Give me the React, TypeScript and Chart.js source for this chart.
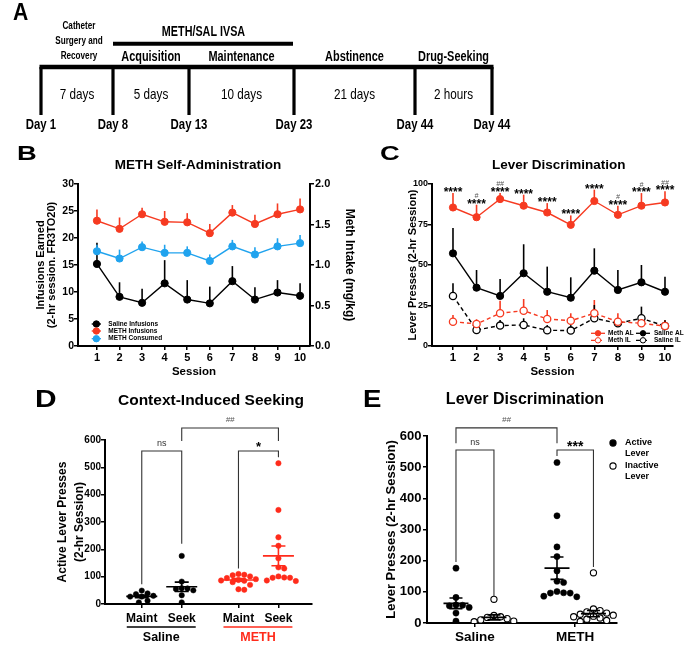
import React, { useEffect, useRef } from "react";
import { Chart, registerables } from "chart.js";

Chart.register(...registerables);

const SANS = "'Liberation Sans', Arial, Helvetica, sans-serif";
const RED = "#F63A21";
const RED_BRIGHT = "#FF2B1B";
const BLUE = "#20A3EE";
const BLACK = "#000000";

// ===== Panel A: experimental timeline =====
const timelineDays = ["Day 1", "Day 8", "Day 13", "Day 23", "Day 44", "Day 44"];
const timelineStages = ["Catheter\nSurgery and\nRecovery", "Acquisition", "Maintenance", "Abstinence", "Drug-Seeking"];
const timelineDurations = ["7 days", "5 days", "10 days", "21 days", "2 hours"];
const ivsaLabel = "METH/SAL IVSA";
const ivsaStages = [1, 2]; // stages covered by the IVSA bar

// ===== Panel B: METH self-administration =====
const sessions = [1, 2, 3, 4, 5, 6, 7, 8, 9, 10];
const salineInfusions = [15.2, 9.1, 8.0, 11.6, 8.6, 7.9, 12.0, 8.6, 9.9, 9.3];
const salineInfusionsErrTop = [19.1, 11.8, 10.6, 15.9, 12.2, 11.0, 14.8, 10.9, 12.2, 11.6];
const methInfusions = [23.2, 21.7, 24.4, 23.0, 22.9, 20.9, 24.7, 22.6, 24.4, 25.3];
const methInfusionsErrTop = [25.3, 23.8, 25.6, 25.0, 24.6, 22.6, 26.1, 24.3, 26.4, 27.3];
const methConsumed = [1.17, 1.08, 1.22, 1.15, 1.15, 1.05, 1.23, 1.13, 1.23, 1.27];
const methConsumedErrTop = [1.25, 1.19, 1.29, 1.25, 1.23, 1.13, 1.31, 1.22, 1.33, 1.37];

// ===== Panel C: lever discrimination across sessions =====
const methAL = [85.5, 79.5, 90.7, 86.6, 82.4, 74.8, 89.5, 81.0, 86.6, 88.6];
const methALErrTop = [94.4, 87.2, 94.5, 93.4, 88.2, 80.6, 96.5, 86.6, 94.4, 95.5];
const methIL = [15.0, 13.6, 20.2, 21.8, 16.7, 15.6, 20.2, 15.0, 14.0, 12.3];
const methILErrTop = [19.1, 16.5, 28.0, 29.0, 22.2, 20.2, 28.4, 20.2, 16.9, 16.0];
const salineAL = [57.2, 36.0, 30.9, 44.9, 33.5, 29.8, 46.5, 34.6, 39.3, 33.5];
const salineALErrTop = [72.9, 46.9, 41.4, 62.8, 49.0, 42.4, 60.3, 46.9, 50.0, 42.8];
const salineIL = [30.9, 9.9, 12.6, 13.0, 9.7, 9.5, 17.1, 14.0, 17.1, 12.3];
const salineILErrTop = [38.7, 12.9, 16.0, 17.1, 12.9, 12.9, 25.3, 17.0, 24.3, 15.9];
const cStars = ["****", "****", "****", "****", "****", "****", "****", "****", "****", "****"];
const cHashes = ["", "#", "##", "", "", "", "", "#", "#", "##"];

// ===== Panel D: context-induced seeking =====
const dGroupLabels = ["Maint", "Seek", "Maint", "Seek"];
const dConditions = ["Saline", "METH"];
const salineMaint = [39, 27, 27, 30, 49, 6, 12, 36];
const salineSeek = [176, 82, 58, 50, 55, 57, 32, 6];
const methMaint = [110, 107, 105, 101, 95, 91, 88, 86, 85, 80, 70, 54, 52];
const methSeek = [515, 344, 244, 213, 167, 134, 130, 101, 97, 96, 96, 86, 84];
const dMeans = [28, 63, 88, 176];
const dSems = [5, 17, 5, 36];
const dBracketPairs = [[0, 1], [2, 3], [1, 3]];
const dBracketLegs = [[72, 220], [130, 537], [596, 596]];
const dBracketTops = [560, 560, 644];
const dBracketLabels = ["ns", "*", "##"];

// ===== Panel E: lever discrimination on test =====
const eConditions = ["Saline", "METH"];
const eSeriesLabels = ["Active Lever", "Inactive Lever"];
const salineInactive = [76, 24, 20, 18, 14, 10, 6, 4];
const methInactive = [161, 45, 40, 36, 32, 28, 25, 22, 20, 16, 12, 8, 5];
const eMeans = [63, 18, 176, 30];
const eSems = [17, 8, 36, 10];
const eBracketPairs = [[0, 2], [0, 1], [2, 3]];
const eBracketLegs = [[577, 577], [196, 87], [536, 180]];
const eBracketTops = [626, 555, 555];
const eBracketLabels = ["##", "ns", "***"];

// ===== layout constants (schematic / category positions) =====
const A_X = [41, 113, 189, 294, 415, 492];
const D_POS = [0, 1, 2.42, 3.42];
const E_POS = [0, 1, 2.66, 3.62];
const E_TICKS = [0.5, 3.14];

Chart.defaults.font.family = SANS;
Chart.defaults.color = "#000";

type TextItem = {
  text: string; x: number; y: number; font: string; color?: string;
  align?: CanvasTextAlign; baseline?: CanvasTextBaseline; sx?: number;
};

function textPlugin(items: TextItem[]) {
  return {
    id: "texts",
    afterDraw(chart: any) {
      const ctx = chart.ctx;
      for (const t of items) {
        ctx.save();
        ctx.translate(t.x, t.y);
        ctx.scale(t.sx ?? 1, 1);
        ctx.font = t.font;
        ctx.fillStyle = t.color ?? "#000";
        ctx.textAlign = t.align ?? "center";
        ctx.textBaseline = t.baseline ?? "middle";
        ctx.fillText(t.text, 0, 0);
        ctx.restore();
      }
    },
  };
}

const errorBarPlugin = {
  id: "errorBars",
  beforeDatasetsDraw(chart: any) {
    const ctx = chart.ctx;
    chart.data.datasets.forEach((ds: any, i: number) => {
      if (!ds.errTop) return;
      const meta = chart.getDatasetMeta(i);
      const xs = chart.scales[meta.xAxisID];
      const ys = chart.scales[meta.yAxisID];
      ctx.save();
      ctx.strokeStyle = ds.borderColor;
      ctx.lineWidth = 1.6;
      ds.data.forEach((p: any, j: number) => {
        const x = xs.getPixelForValue(p.x);
        ctx.beginPath();
        ctx.moveTo(x, ys.getPixelForValue(p.y));
        ctx.lineTo(x, ys.getPixelForValue(ds.errTop[j]));
        ctx.stroke();
      });
      ctx.restore();
    });
  },
};

function drawLegendEntry(ctx: any, ds: any, x0: number, x1: number, y: number, textX: number, size: number, r: number) {
  ctx.save();
  ctx.strokeStyle = ds.borderColor;
  ctx.lineWidth = 1.3;
  ctx.setLineDash(ds.borderDash || []);
  ctx.beginPath();
  ctx.moveTo(x0, y);
  ctx.lineTo(x1, y);
  ctx.stroke();
  ctx.setLineDash([]);
  ctx.beginPath();
  ctx.arc((x0 + x1) / 2, y, r, 0, Math.PI * 2);
  ctx.fillStyle = ds.pointBackgroundColor;
  ctx.fill();
  ctx.lineWidth = 1;
  ctx.strokeStyle = ds.pointBorderColor;
  ctx.stroke();
  ctx.fillStyle = "#000";
  ctx.font = `bold ${size}px ${SANS}`;
  ctx.textAlign = "left";
  ctx.textBaseline = "middle";
  ctx.fillText(ds.label, textX, y);
  ctx.restore();
}

function swarm(values: number[], center: number, pxPerX: number, pxPerY: number, minDist: number) {
  const order = values.map((_, i) => i).sort((a, b) => values[b] - values[a]);
  const placed: { dx: number; py: number }[] = [];
  const out: { x: number; y: number }[] = new Array(values.length);
  const step = minDist * 0.5;
  for (const i of order) {
    const py = values[i] * pxPerY;
    let chosen = 0;
    for (let k = 0; k < 80; k++) {
      const dx = k === 0 ? 0 : (k % 2 === 1 ? 1 : -1) * Math.ceil(k / 2) * step;
      if (placed.every((p) => Math.hypot(p.dx - dx, p.py - py) >= minDist)) {
        chosen = dx;
        break;
      }
    }
    placed.push({ dx: chosen, py });
    out[i] = { x: center + chosen / pxPerX, y: values[i] };
  }
  return out;
}

function meanSemPlugin(means: number[], sems: number[], pos: number[], colors: string[], meanHalf: number, capHalf: number) {
  return {
    id: "meanSem",
    afterDatasetsDraw(chart: any) {
      const ctx = chart.ctx;
      const xs = chart.scales.x;
      const ys = chart.scales.y;
      ctx.save();
      ctx.lineWidth = 1.6;
      means.forEach((m, i) => {
        const x = xs.getPixelForValue(pos[i]);
        const ym = ys.getPixelForValue(m);
        const yt = ys.getPixelForValue(m + sems[i]);
        const yb = ys.getPixelForValue(m - sems[i]);
        ctx.strokeStyle = colors[i];
        ctx.beginPath();
        ctx.moveTo(x - meanHalf, ym); ctx.lineTo(x + meanHalf, ym);
        ctx.moveTo(x, yt); ctx.lineTo(x, yb);
        ctx.moveTo(x - capHalf, yt); ctx.lineTo(x + capHalf, yt);
        ctx.moveTo(x - capHalf, yb); ctx.lineTo(x + capHalf, yb);
        ctx.stroke();
      });
      ctx.restore();
    },
  };
}

function bracketPlugin(pairs: number[][], legs: number[][], tops: number[], labels: string[], pos: number[], starSize: number) {
  return {
    id: "brackets",
    afterDraw(chart: any) {
      const ctx = chart.ctx;
      const xs = chart.scales.x;
      const ys = chart.scales.y;
      ctx.save();
      pairs.forEach((pr, i) => {
        const x1 = xs.getPixelForValue(pos[pr[0]]);
        const x2 = xs.getPixelForValue(pos[pr[1]]);
        const top = ys.getPixelForValue(tops[i]);
        ctx.strokeStyle = "#333";
        ctx.lineWidth = 1.1;
        ctx.beginPath();
        ctx.moveTo(x1, ys.getPixelForValue(legs[i][0]));
        ctx.lineTo(x1, top);
        ctx.lineTo(x2, top);
        ctx.lineTo(x2, ys.getPixelForValue(legs[i][1]));
        ctx.stroke();
        const lab = labels[i];
        const isStar = lab.includes("*");
        ctx.textAlign = "center";
        ctx.textBaseline = "alphabetic";
        if (isStar) {
          ctx.font = `bold ${starSize}px ${SANS}`;
          ctx.fillStyle = "#000";
          ctx.fillText(lab, (x1 + x2) / 2, top + 0.5);
        } else if (lab.includes("#")) {
          ctx.font = `italic 8px ${SANS}`;
          ctx.fillStyle = "#555";
          ctx.fillText(lab, (x1 + x2) / 2, top - 5.5);
        } else {
          ctx.font = `9px ${SANS}`;
          ctx.fillStyle = "#333";
          ctx.fillText(lab, (x1 + x2) / 2, top - 5);
        }
      });
      ctx.restore();
    },
  };
}

const axisBorder = { display: true, color: "#000", width: 2 };
const tickGrid = (len: number) => ({
  display: true, drawOnChartArea: false, drawTicks: true, tickLength: len,
  color: "#000", tickColor: "#000", tickWidth: 1.5, lineWidth: 1.5,
});

function sessionAxis(min: number, max: number, tickSize: number) {
  return {
    type: "linear",
    min, max,
    afterBuildTicks: (s: any) => { s.ticks = sessions.map((v) => ({ value: v })); },
    ticks: { font: { size: tickSize, weight: "bold" }, color: "#000", padding: 1, autoSkip: false, maxRotation: 0 },
    grid: tickGrid(4),
    border: axisBorder,
    title: { display: true, text: "Session", font: { size: 11.5, weight: "bold" }, color: "#000", padding: { top: 0, bottom: 1 } },
    afterFit: (s: any) => { s.height = 34; },
  };
}

const pts = (vals: number[]) => sessions.map((s, i) => ({ x: s, y: vals[i] }));

// ---------- Panel A ----------
function configA() {
  const tickData: any[] = [];
  A_X.forEach((x) => { tickData.push({ x, y: 67 }, { x, y: 115 }, { x, y: null }); });
  const datasets: any[] = [
    { data: [{ x: A_X[0] - 1.5, y: 67 }, { x: A_X[A_X.length - 1] + 1.5, y: 67 }], borderWidth: 4.3 },
    { data: tickData, borderWidth: 3.2, spanGaps: false },
    { data: [{ x: A_X[ivsaStages[0]], y: 43.7 }, { x: A_X[ivsaStages[1] + 1] - 1, y: 43.7 }], borderWidth: 4 },
  ].map((d) => ({ ...d, borderColor: "#000", pointRadius: 0, tension: 0 }));
  const cond = 0.78;
  const items: TextItem[] = [{ text: "A", x: 13, y: 14, font: `bold 23px ${SANS}`, align: "left", sx: 0.92 }];
  timelineStages.forEach((st, i) => {
    const cx = (A_X[i] + A_X[i + 1]) / 2;
    const lines = st.split("\n");
    if (lines.length > 1) {
      const ys = [25.5, 41, 56];
      lines.forEach((ln, k) => items.push({ text: ln, x: cx + 2, y: ys[k], font: `bold 11px ${SANS}`, sx: 0.74 }));
    } else {
      items.push({ text: st, x: cx, y: 56.7, font: `bold 14px ${SANS}`, sx: cond });
    }
    items.push({ text: timelineDurations[i], x: cx, y: 94.5, font: `15px ${SANS}`, sx: cond });
  });
  timelineDays.forEach((d, i) => items.push({ text: d, x: A_X[i], y: 125, font: `bold 15px ${SANS}`, sx: 0.76 }));
  items.push({ text: ivsaLabel, x: (A_X[ivsaStages[0]] + A_X[ivsaStages[1] + 1]) / 2, y: 32.5, font: `bold 14px ${SANS}`, sx: 0.77 });
  return {
    type: "line",
    data: { datasets },
    options: {
      animation: false, responsive: false, events: [],
      layout: { padding: 0 },
      plugins: { legend: { display: false }, tooltip: { enabled: false } },
      scales: {
        x: { type: "linear", min: 0, max: 700, display: false },
        y: { type: "linear", min: 0, max: 140, reverse: true, display: false },
      },
    },
    plugins: [textPlugin(items)],
  };
}

// ---------- Panel B ----------
function configB() {
  const datasets: any[] = [
    { label: "Saline Infusions", data: pts(salineInfusions), errTop: salineInfusionsErrTop, color: BLACK, yAxisID: "y" },
    { label: "METH Infusions", data: pts(methInfusions), errTop: methInfusionsErrTop, color: RED, yAxisID: "y" },
    { label: "METH Consumed", data: pts(methConsumed), errTop: methConsumedErrTop, color: BLUE, yAxisID: "y1" },
  ].map((d) => ({
    ...d, borderColor: d.color, backgroundColor: d.color, pointBackgroundColor: d.color, pointBorderColor: d.color,
    borderWidth: 1.4, pointRadius: 3.6, pointBorderWidth: 1, tension: 0,
  }));
  const legendPlugin = {
    id: "legendB",
    afterDraw(chart: any) {
      const ctx = chart.ctx;
      const ys = [184, 191, 198.7];
      chart.data.datasets.forEach((ds: any, i: number) => drawLegendEntry(ctx, ds, 91.7, 101, ys[i], 108.3, 6.5, 3.2));
    },
  };
  return {
    type: "line",
    data: { datasets },
    options: {
      animation: false, responsive: false, events: [],
      layout: { padding: { left: 0, right: 0, top: 44, bottom: 0 } },
      plugins: { legend: { display: false }, tooltip: { enabled: false } },
      scales: {
        x: sessionAxis(0.16, 10.44, 11),
        y: {
          type: "linear", position: "left", min: 0, max: 30,
          ticks: { stepSize: 5, font: { size: 10.5, weight: "bold" }, color: "#000", padding: 0 },
          grid: tickGrid(4), border: axisBorder,
          title: { display: true, text: ["Infusions Earned", "(2-hr session. FR3TO20)"], font: { size: 11, weight: "bold", lineHeight: 1.05 }, color: "#000", padding: { top: 35, bottom: 0 } },
          afterFit: (s: any) => { s.width = 78; },
        },
        y1: {
          type: "linear", position: "right", min: 0, max: 2,
          ticks: { stepSize: 0.5, font: { size: 11, weight: "bold" }, color: "#000", padding: 1, callback: (v: any) => Number(v).toFixed(1) },
          grid: tickGrid(4), border: axisBorder,
          title: { display: true, text: "Meth Intake (mg/kg)", font: { size: 12, weight: "bold" }, color: "#000", padding: { top: 7, bottom: 0 } },
          afterFit: (s: any) => { s.width = 54; },
        },
      },
    },
    plugins: [
      errorBarPlugin,
      legendPlugin,
      textPlugin([
        { text: "B", x: 17, y: 14.5, font: `bold 21px ${SANS}`, align: "left", sx: 1.3 },
        { text: "METH Self-Administration", x: 198, y: 25.5, font: `bold 13.5px ${SANS}` },
      ]),
    ],
  };
}

// ---------- Panel C ----------
function configC() {
  const datasets: any[] = [
    { label: "Meth AL", data: pts(methAL), errTop: methALErrTop, color: RED, open: false },
    { label: "Meth IL", data: pts(methIL), errTop: methILErrTop, color: RED, open: true },
    { label: "Saline AL", data: pts(salineAL), errTop: salineALErrTop, color: BLACK, open: false },
    { label: "Saline IL", data: pts(salineIL), errTop: salineILErrTop, color: BLACK, open: true },
  ].map((d) => ({
    ...d, borderColor: d.color, backgroundColor: d.color,
    pointBackgroundColor: d.open ? "#ffffff" : d.color, pointBorderColor: d.color,
    borderDash: d.open ? [4, 3] : [], borderWidth: 1.4, pointRadius: 3.6, pointBorderWidth: d.open ? 1.3 : 1, tension: 0,
  }));
  const sigPlugin = {
    id: "sigC",
    afterDraw(chart: any) {
      const ctx = chart.ctx;
      const xs = chart.scales.x;
      const ys = chart.scales.y;
      ctx.save();
      ctx.textAlign = "center";
      ctx.textBaseline = "alphabetic";
      sessions.forEach((s, i) => {
        const x = xs.getPixelForValue(s);
        const top = ys.getPixelForValue(methALErrTop[i]);
        ctx.font = `bold 12px ${SANS}`;
        ctx.fillStyle = "#000";
        ctx.fillText(cStars[i], x, top + 3);
        if (cHashes[i]) {
          ctx.font = `italic 7px ${SANS}`;
          ctx.fillStyle = "#555";
          ctx.fillText(cHashes[i], x, top - 6.5);
        }
      });
      ctx.restore();
    },
  };
  const legendPlugin = {
    id: "legendC",
    afterDraw(chart: any) {
      const ctx = chart.ctx;
      const d = chart.data.datasets;
      drawLegendEntry(ctx, d[0], 241, 255, 193.3, 258, 6.5, 2.7);
      drawLegendEntry(ctx, d[1], 241, 255, 200.3, 258, 6.5, 2.7);
      drawLegendEntry(ctx, d[2], 286, 300, 193.3, 304, 6.5, 2.7);
      drawLegendEntry(ctx, d[3], 286, 300, 200.3, 304, 6.5, 2.7);
    },
  };
  return {
    type: "line",
    data: { datasets },
    options: {
      animation: false, responsive: false, events: [],
      layout: { padding: { left: 0, right: 27, top: 44, bottom: 0 } },
      plugins: { legend: { display: false }, tooltip: { enabled: false } },
      scales: {
        x: sessionAxis(0.109, 10.34, 11.5),
        y: {
          type: "linear", position: "left", min: 0, max: 100,
          ticks: { stepSize: 25, font: { size: 9, weight: "bold" }, color: "#000", padding: 0 },
          grid: tickGrid(4), border: axisBorder,
          title: { display: true, text: "Lever Presses (2-hr Session)", font: { size: 11, weight: "bold" }, color: "#000", padding: { top: 56, bottom: 0 } },
          afterFit: (s: any) => { s.width = 82; },
        },
      },
    },
    plugins: [
      errorBarPlugin,
      sigPlugin,
      legendPlugin,
      textPlugin([
        { text: "C", x: 30, y: 14.5, font: `bold 21px ${SANS}`, align: "left", sx: 1.3 },
        { text: "Lever Discrimination", x: 208.8, y: 25.5, font: `bold 13.5px ${SANS}` },
      ]),
    ],
  };
}

// ---------- Panel D ----------
function configD() {
  const groups = [salineMaint, salineSeek, methMaint, methSeek];
  const colors = [BLACK, BLACK, RED_BRIGHT, RED_BRIGHT];
  const datasets: any[] = groups.map((vals, gi) => ({
    label: `${dConditions[gi < 2 ? 0 : 1]} ${dGroupLabels[gi]}`,
    data: swarm(vals, D_POS[gi], 40, 164 / 600, 5.8),
    pointRadius: 2.7, pointBackgroundColor: colors[gi], pointBorderColor: colors[gi], pointBorderWidth: 0.5,
    showLine: false,
  }));
  const groupPlugin = {
    id: "groupsD",
    afterDraw(chart: any) {
      const ctx = chart.ctx;
      const xs = chart.scales.x;
      const b = chart.chartArea.bottom;
      ctx.save();
      dConditions.forEach((c, i) => {
        const x1 = xs.getPixelForValue(D_POS[i * 2]) - 15;
        const x2 = xs.getPixelForValue(D_POS[i * 2 + 1]) + 14;
        const col = i === 0 ? BLACK : RED_BRIGHT;
        ctx.strokeStyle = col;
        ctx.lineWidth = 1.5;
        ctx.beginPath();
        ctx.moveTo(x1, b + 23); ctx.lineTo(x2, b + 23);
        ctx.stroke();
        ctx.fillStyle = col;
        ctx.font = `bold 12.5px ${SANS}`;
        ctx.textAlign = "center";
        ctx.textBaseline = "middle";
        ctx.fillText(c, (x1 + x2) / 2, b + 33.5);
      });
      ctx.restore();
    },
  };
  return {
    type: "scatter",
    data: { datasets },
    options: {
      animation: false, responsive: false, events: [],
      layout: { padding: { left: 0, right: 38, top: 60, bottom: 0 } },
      plugins: { legend: { display: false }, tooltip: { enabled: false } },
      scales: {
        x: {
          type: "linear", min: -0.92, max: 4.26,
          afterBuildTicks: (s: any) => { s.ticks = D_POS.map((v) => ({ value: v })); },
          ticks: { font: { size: 12, weight: "bold" }, color: "#000", padding: 3, autoSkip: false, maxRotation: 0, callback: (_v: any, i: number) => dGroupLabels[i] },
          grid: tickGrid(4), border: axisBorder,
          afterFit: (s: any) => { s.height = 50; },
        },
        y: {
          type: "linear", min: 0, max: 600,
          ticks: { stepSize: 100, font: { size: 10, weight: "bold" }, color: "#000", padding: 0 },
          grid: tickGrid(4), border: axisBorder,
          title: { display: true, text: ["Active Lever Presses", "(2-hr Session)"], font: { size: 12, weight: "bold", lineHeight: 1.42 }, color: "#000", padding: { top: 54, bottom: 0 } },
          afterFit: (s: any) => { s.width = 105; },
        },
      },
    },
    plugins: [
      meanSemPlugin(dMeans, dSems, D_POS, colors, 15.5, 7),
      bracketPlugin(dBracketPairs, dBracketLegs, dBracketTops, dBracketLabels, D_POS, 13),
      groupPlugin,
      textPlugin([
        { text: "D", x: 35, y: 20.5, font: `bold 23px ${SANS}`, align: "left", sx: 1.3 },
        { text: "Context-Induced Seeking", x: 211, y: 20.8, font: `bold 15.5px ${SANS}` },
      ]),
    ],
  };
}

// ---------- Panel E ----------
function configE() {
  const groups = [salineSeek, salineInactive, methSeek, methInactive];
  const open = [false, true, false, true];
  const datasets: any[] = groups.map((vals, gi) => ({
    label: eSeriesLabels[open[gi] ? 1 : 0],
    data: swarm(vals, E_POS[gi], 38, 187 / 600, 6.6),
    pointRadius: 3.1,
    pointBackgroundColor: open[gi] ? "#ffffff" : BLACK,
    pointBorderColor: BLACK,
    pointBorderWidth: open[gi] ? 1.1 : 0.5,
    showLine: false,
  }));
  const legendPlugin = {
    id: "legendE",
    afterDraw(chart: any) {
      const ctx = chart.ctx;
      const ca = chart.chartArea;
      const mx = ca.right - 4;
      const tx = ca.right + 8;
      ctx.save();
      [0, 1].forEach((k) => {
        const y = ca.top + 7 + k * 23;
        ctx.beginPath();
        ctx.arc(mx, y, 3.1, 0, Math.PI * 2);
        ctx.fillStyle = k === 0 ? BLACK : "#fff";
        ctx.fill();
        ctx.lineWidth = 1.1;
        ctx.strokeStyle = BLACK;
        ctx.stroke();
        const words = eSeriesLabels[k].split(" ");
        ctx.fillStyle = "#000";
        ctx.font = `bold 9px ${SANS}`;
        ctx.textAlign = "left";
        ctx.textBaseline = "middle";
        ctx.fillText(words[0], tx, y);
        ctx.fillText(words[1], tx, y + 11);
      });
      ctx.restore();
    },
  };
  return {
    type: "scatter",
    data: { datasets },
    options: {
      animation: false, responsive: false, events: [],
      layout: { padding: { left: 0, right: 83, top: 56, bottom: 0 } },
      plugins: { legend: { display: false }, tooltip: { enabled: false } },
      scales: {
        x: {
          type: "linear", min: -0.763, max: 4.24,
          afterBuildTicks: (s: any) => { s.ticks = E_TICKS.map((v) => ({ value: v })); },
          ticks: { font: { size: 13.5, weight: "bold" }, color: "#000", padding: 2, autoSkip: false, maxRotation: 0, callback: (_v: any, i: number) => eConditions[i] },
          grid: tickGrid(4), border: axisBorder,
          afterFit: (s: any) => { s.height = 31; },
        },
        y: {
          type: "linear", min: 0, max: 600,
          ticks: { stepSize: 100, font: { size: 13, weight: "bold" }, color: "#000", padding: 1.5 },
          grid: tickGrid(4), border: axisBorder,
          title: { display: true, text: "Lever Presses (2-hr Session)", font: { size: 13, weight: "bold" }, color: "#000", padding: { top: 34, bottom: 0 } },
          afterFit: (s: any) => { s.width = 77; },
        },
      },
    },
    plugins: [
      meanSemPlugin(eMeans, eSems, E_POS, [BLACK, BLACK, BLACK, BLACK], 12.5, 6.5),
      bracketPlugin(eBracketPairs, eBracketLegs, eBracketTops, eBracketLabels, E_POS, 14),
      legendPlugin,
      textPlugin([
        { text: "E", x: 13, y: 20.5, font: `bold 23px ${SANS}`, align: "left", sx: 1.2 },
        { text: "Lever Discrimination", x: 175, y: 20, font: `bold 16px ${SANS}` },
      ]),
    ],
  };
}

function ChartCanvas({ left, top, width, height, make }: { left: number; top: number; width: number; height: number; make: () => any }) {
  const ref = useRef<HTMLCanvasElement>(null);
  useEffect(() => {
    if (!ref.current) return;
    const chart = new Chart(ref.current, make());
    return () => chart.destroy();
  }, []);
  return (
    <canvas
      ref={ref}
      width={width}
      height={height}
      style={{ position: "absolute", left, top, width, height }}
    />
  );
}

export default function App() {
  return (
    <div style={{ position: "absolute", left: 0, top: 0, width: 700, height: 654, background: "#fff", overflow: "hidden" }}>
      <ChartCanvas left={0} top={0} width={700} height={140} make={configA} />
      <ChartCanvas left={0} top={140} width={364} height={240} make={configB} />
      <ChartCanvas left={350} top={140} width={350} height={240} make={configC} />
      <ChartCanvas left={0} top={380} width={350} height={274} make={configD} />
      <ChartCanvas left={350} top={380} width={350} height={274} make={configE} />
    </div>
  );
}
